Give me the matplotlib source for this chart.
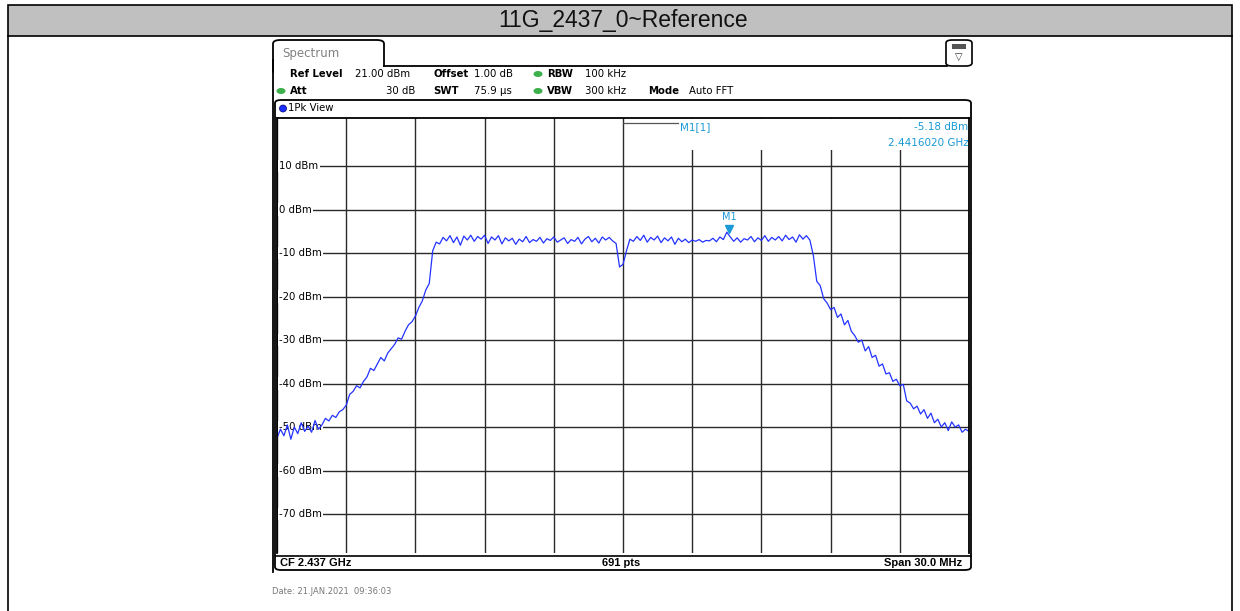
import numpy as np
import matplotlib
matplotlib.use('Agg')
import matplotlib.pyplot as plt
from matplotlib.patches import Rectangle, FancyBboxPatch, Ellipse
from matplotlib.lines import Line2D

# analyzer settings
center_ghz = 2.437
span_mhz = 30.0
ref_level = 21.0
n_shown = 201  # samples

# trace levels (dBm), left to right
level_dbm = [
    -52.5, -50.5, -52.0, -49.5, -52.8, -50.0, -51.5, -49.0, -51.0, -49.8,
    -51.2, -48.5, -50.5, -49.5, -48.0, -48.6, -47.3, -47.8, -46.5, -46.0,
    -45.0, -42.5, -41.8, -40.5, -41.0, -39.5, -38.5, -36.5, -37.0, -35.5,
    -34.0, -34.8, -33.0, -32.0, -31.0, -29.5, -29.8, -28.0, -26.5, -25.8,
    -24.5, -22.5, -21.0, -18.5, -17.0, -9.5, -7.5, -7.9, -6.4, -7.2,
    -6.0, -7.6, -6.3, -8.2, -6.1, -7.0, -5.9, -7.3, -6.2, -6.8,
    -5.9, -7.8, -6.3, -7.0, -6.0, -7.9, -6.5, -7.2, -6.6, -8.0,
    -6.8, -7.4, -6.2, -7.6, -6.9, -7.3, -6.4, -7.7, -6.7, -7.1,
    -6.3, -7.5, -7.0, -6.5, -7.8, -6.9, -7.3, -6.4, -7.9, -6.8,
    -6.2, -7.4, -6.6, -7.7, -6.3, -7.0, -6.4, -7.2, -7.8, -13.2,
    -12.6, -9.5, -6.8, -7.3, -6.2, -7.1, -5.9, -7.5, -6.4, -7.0,
    -6.1, -7.6, -6.5, -7.2, -6.3, -8.0, -6.6, -7.4, -6.8, -7.6,
    -7.0, -7.3, -6.9, -7.5, -7.1, -7.2, -6.6, -7.4, -6.3, -6.9,
    -5.2, -6.3, -7.3, -6.5, -7.5, -6.7, -7.0, -6.2, -7.4, -6.5,
    -7.1, -6.0, -7.3, -6.4, -7.0, -6.2, -7.2, -5.9, -6.9, -6.3,
    -7.5, -5.8, -6.8, -6.0, -7.0, -10.5, -16.5, -17.5, -20.5, -21.5,
    -23.0, -22.5, -24.8, -24.0, -26.5, -25.5, -28.0, -29.0, -30.5, -30.0,
    -32.5, -31.5, -34.0, -33.5, -36.0, -35.5, -37.8, -37.5, -39.5, -39.0,
    -40.5, -40.2, -44.0, -44.5, -45.8, -45.2, -47.0, -46.0, -48.0, -46.8,
    -49.0, -48.2, -50.0, -49.0, -50.8, -48.8, -50.0, -49.5, -51.2, -50.5,
    -51.0,
]

ytick_vals = [10, 0, -10, -20, -30, -40, -50, -60, -70]
m1_freq_ghz = 2.4416020
m1_level = -5.18

W, H = 1240, 611
fig = plt.figure(figsize=(W / 100, H / 100), dpi=100)
fig.patch.set_facecolor('white')


def fx(x):
    return x / W


def fy(y):
    return 1 - y / H


def ftext(x, y, s, **kw):
    fig.text(fx(x), fy(y), s, **kw)


def fline(x0, y0, x1, y1, **kw):
    fig.add_artist(Line2D([fx(x0), fx(x1)], [fy(y0), fy(y1)], transform=fig.transFigure, **kw))


# ---- title bar
fig.add_artist(Rectangle((fx(8), fy(36)), fx(1232) - fx(8), fy(5) - fy(36),
                         transform=fig.transFigure, facecolor='#c0c0c0', edgecolor='black', lw=1.2))
fline(8, 36, 8, 611, color='black', lw=1.2)
fline(1232, 36, 1232, 611, color='black', lw=1.2)
ftext(623, 21, '11G_2437_0~Reference', ha='center', va='center', fontsize=16.5,
      family=['Liberation Sans Narrow', 'Liberation Sans'], color='#111111')

# ---- spectrum tab & header
tab = FancyBboxPatch((fx(273), fy(74)), fx(384) - fx(273), fy(40) - fy(74),
                     boxstyle='round,pad=0,rounding_size=0.006', transform=fig.transFigure,
                     facecolor='none', edgecolor='black', lw=1.3, zorder=1)
fig.add_artist(tab)
fig.add_artist(Rectangle((fx(274.2), fy(76)), fx(385.5) - fx(274.2), fy(66.8) - fy(76),
                         transform=fig.transFigure, facecolor='white', edgecolor='none', zorder=1.5))
fline(384, 66, 947, 66, color='black', lw=1.3)
fline(273, 60, 273, 572, color='black', lw=1.3)
ftext(282, 53, 'Spectrum', ha='left', va='center', fontsize=8.5, color='#808080')
icon = FancyBboxPatch((fx(946), fy(66)), fx(972) - fx(946), fy(40) - fy(66),
                      boxstyle='round,pad=0,rounding_size=0.005', transform=fig.transFigure,
                      facecolor='none', edgecolor='black', lw=1.2)
fig.add_artist(icon)
fig.add_artist(Rectangle((fx(952), fy(49)), fx(966) - fx(952), fy(44) - fy(49),
                         transform=fig.transFigure, facecolor='#555555', edgecolor='none'))
ftext(959, 57, '\u25bd', ha='center', va='center', fontsize=7, color='#333333')

hs = 7.3
ftext(290, 74, 'Ref Level', fontsize=hs, fontweight='bold', va='center', zorder=3)
ftext(355, 74, '21.00 dBm', fontsize=hs, va='center', zorder=3)
ftext(433, 74, 'Offset', fontsize=hs, fontweight='bold', va='center')
ftext(474, 74, '1.00 dB', fontsize=hs, va='center')
ftext(547, 74, 'RBW', fontsize=hs, fontweight='bold', va='center')
ftext(585, 74, '100 kHz', fontsize=hs, va='center')
ftext(290, 91, 'Att', fontsize=hs, fontweight='bold', va='center')
ftext(415, 91, '30 dB', fontsize=hs, va='center', ha='right')
ftext(433, 91, 'SWT', fontsize=hs, fontweight='bold', va='center')
ftext(474, 91, '75.9 \u00b5s', fontsize=hs, va='center')
ftext(547, 91, 'VBW', fontsize=hs, fontweight='bold', va='center')
ftext(585, 91, '300 kHz', fontsize=hs, va='center')
ftext(648, 91, 'Mode', fontsize=hs, fontweight='bold', va='center')
ftext(689, 91, 'Auto FFT', fontsize=hs, va='center')
for cx, cy in [(538, 74), (281, 91), (538, 91)]:
    fig.add_artist(Ellipse((fx(cx), fy(cy)), 9 / W, 6 / H,
                           transform=fig.transFigure, facecolor='#3cb04a', edgecolor='none'))

# ---- plot window frame (no face, so the axes stay visible)
win = FancyBboxPatch((fx(275), fy(570)), fx(971) - fx(275), fy(100) - fy(570),
                     boxstyle='round,pad=0,rounding_size=0.005', transform=fig.transFigure,
                     facecolor='none', edgecolor='black', lw=1.3)
fig.add_artist(win)
fig.add_artist(Ellipse((fx(283), fy(108.5)), 7 / W, 7 / H,
                       transform=fig.transFigure, facecolor='#1a2fff', edgecolor='#000066', lw=0.5))
ftext(288, 108.5, '1Pk View', fontsize=7.3, va='center')
fline(275, 556, 971, 556, color='black', lw=1.2)
ftext(280, 563, 'CF 2.437 GHz', fontsize=8, fontweight='bold', va='center', family='Liberation Sans')
ftext(621, 563, '691 pts', fontsize=8, fontweight='bold', va='center', ha='center', family='Liberation Sans')
ftext(962, 563, 'Span 30.0 MHz', fontsize=8, fontweight='bold', va='center', ha='right', family='Liberation Sans')
ftext(272, 592, 'Date: 21.JAN.2021  09:36:03', fontsize=6, va='center', color='#777777')

# ---- trace axes
y_top_px = 118.2
y_bot_px = 553.2
ax = fig.add_axes([fx(277), fy(y_bot_px), (969 - 277) / W, (y_bot_px - y_top_px) / H])
ax.patch.set_alpha(0)
f_start = center_ghz - span_mhz / 2000
f_stop = center_ghz + span_mhz / 2000
freq = np.linspace(f_start, f_stop, n_shown)
ax.set_xlim(f_start, f_stop)
ax.set_ylim(ref_level - 100, ref_level)
ax.set_xticks(np.linspace(f_start, f_stop, 11))
ax.set_yticks(ytick_vals)
ax.tick_params(length=0, labelbottom=False, labelleft=False)
ax.grid(True, color='#2a2a2a', lw=1.0)
ax.set_axisbelow(True)
for sp in ax.spines.values():
    sp.set_color('black')
    sp.set_linewidth(1.3)
    sp.set_zorder(7)
ax.spines['bottom'].set_visible(False)

for v in ytick_vals:
    ax.text(f_start + 0.00009, v, '%d dBm' % v, fontsize=7.3, va='center', ha='left', zorder=3,
            bbox=dict(facecolor='white', edgecolor='none', pad=1.0))

# marker readout box covers the grid at top right
ax.add_patch(Rectangle((2.43938, 13.7), f_stop - 2.43938, 7.1, facecolor='white', edgecolor='none', zorder=3))
ax.plot([2.43700, 2.43938], [20.0, 20.0], color='#555555', lw=0.9, zorder=3)
mcol = '#1a9ad6'
ax.text(2.43945, 19.0, 'M1[1]', color=mcol, fontsize=7.5, va='center', ha='left', zorder=4)
ax.text(f_stop - 0.00003, 19.0, '-5.18 dBm', color=mcol, fontsize=7.5, va='center', ha='right', zorder=4)
ax.text(f_stop - 0.00003, 15.3, '2.4416020 GHz', color=mcol, fontsize=7.5, va='center', ha='right', zorder=4)

ax.plot(freq, level_dbm, color='#2333ff', lw=0.9, zorder=5)
ax.plot([m1_freq_ghz], [m1_level + 0.7], marker='v', markersize=6, color=mcol, zorder=6)
ax.text(m1_freq_ghz, m1_level + 3.4, 'M1', color=mcol, fontsize=7, ha='center', va='center', zorder=6)

fig.savefig('out.png', dpi=100)
